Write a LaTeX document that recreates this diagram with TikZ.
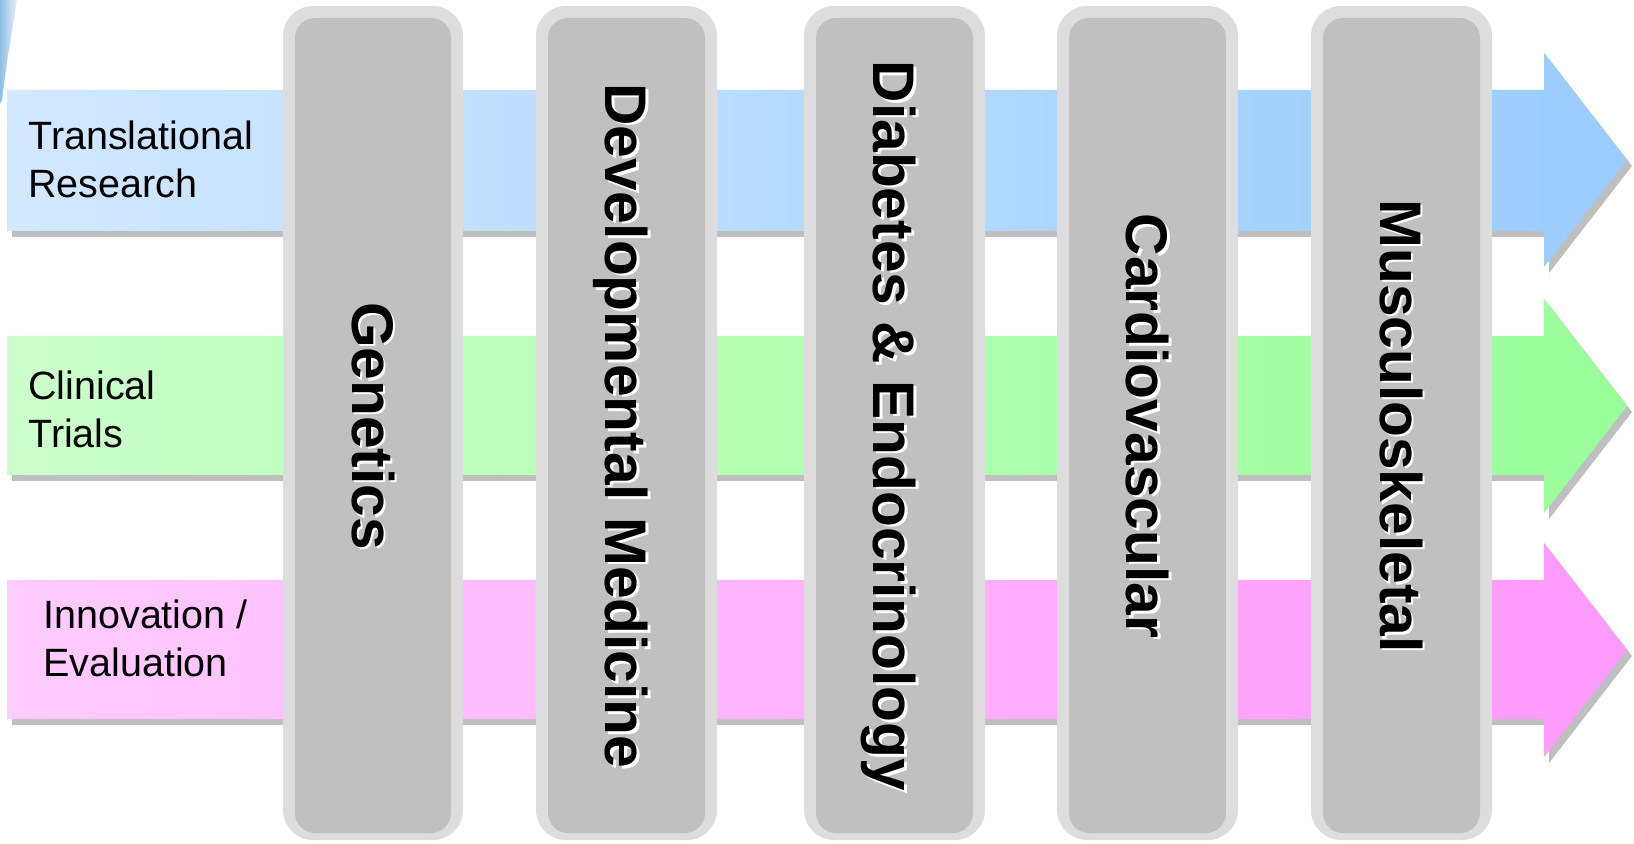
\documentclass[tikz,border=0pt]{standalone}
\usepackage{fontspec}
\setmainfont{Liberation Sans}
\definecolor{blueL}{HTML}{D2E8FF}
\definecolor{blueR}{HTML}{99CCFF}
\definecolor{greenL}{HTML}{CCFFCC}
\definecolor{greenR}{HTML}{99FF99}
\definecolor{pinkL}{HTML}{FFCCFF}
\definecolor{pinkR}{HTML}{FF99FF}
\definecolor{shadowgray}{HTML}{BFBFBF}
\definecolor{colout}{HTML}{DDDDDD}
\definecolor{colin}{HTML}{C0C0C0}
\definecolor{swooshA}{HTML}{8EBFE6}
\definecolor{swooshB}{HTML}{E4F0FA}
\tikzset{
  bandshadow/.style={fill=shadowgray},
  outerbox/.style={fill=colout, rounded corners=15pt},
  innerbox/.style={fill=colin, rounded corners=10pt},
  rowlabel/.style={anchor=base west, align=left, inner sep=0pt,
    font=\fontsize{19.75pt}{24pt}\selectfont},
  coltext/.style={rotate=-90, anchor=base, inner sep=0pt,
    font=\fontsize{29.35pt}{34pt}\selectfont\bfseries},
  coltextshadow/.style={coltext, text=white},
}
\begin{document}
\begin{tikzpicture}[x=0.5pt,y=-0.5pt]
\useasboundingbox (0,0) rectangle (1634,844);
\fill[white] (0,0) rectangle (1634,844);
% swoosh at top-left
\shade[left color=swooshA, right color=swooshB] (0,0) -- (17,0) -- (8,55) -- (2,100) -- (0,104) -- cycle;
% band shadows
\begin{scope}[shift={(5,6)}]
  \fill[bandshadow] (7,90) -- (1544,90) -- (1544,53) -- (1627,160) -- (1544,267) -- (1544,231) -- (7,231) -- cycle;
  \fill[bandshadow] (7,336) -- (1544,336) -- (1544,299) -- (1627,406) -- (1544,513) -- (1544,475) -- (7,475) -- cycle;
  \fill[bandshadow] (7,580) -- (1544,580) -- (1544,543) -- (1627,650) -- (1544,757) -- (1544,719) -- (7,719) -- cycle;
\end{scope}
% bands
\shade[left color=blueL, right color=blueR] (7,90) -- (1544,90) -- (1544,53) -- (1627,160) -- (1544,267) -- (1544,231) -- (7,231) -- cycle;
\shade[left color=greenL, right color=greenR] (7,336) -- (1544,336) -- (1544,299) -- (1627,406) -- (1544,513) -- (1544,475) -- (7,475) -- cycle;
\shade[left color=pinkL, right color=pinkR] (7,580) -- (1544,580) -- (1544,543) -- (1627,650) -- (1544,757) -- (1544,719) -- (7,719) -- cycle;
% row labels (anchor on the baseline of the last line)
\node[rowlabel] (r1) at (28,198) {Translational\\Research};
\node[rowlabel] (r2) at (28,448) {Clinical\\Trials};
\node[rowlabel] (r3) at (43,676) {Innovation /\\Evaluation};
% columns
\foreach \l/\r in {283/463, 536/717, 804/985, 1057/1238, 1311/1492}{
  \fill[outerbox] (\l,6) rectangle (\r,840);
  \fill[innerbox] (\l+12,18) rectangle (\r-12,833);
}
% column texts (white shadow then black)
\node[coltextshadow] (t1s) at (354.8,428.5) {Genetics};
\node[coltext] (t1) at (352.3,426) {Genetics};
\node[coltextshadow] (t2s) at (608.2,428.5) {Developmental Medicine};
\node[coltext] (t2) at (605.7,426) {Developmental Medicine};
\node[coltextshadow] (t3s) at (876,428.5) {Diabetes \& Endocrinology};
\node[coltext] (t3) at (873.5,426) {Diabetes \& Endocrinology};
\node[coltextshadow] (t4s) at (1129.3,428.5) {Cardiovascular};
\node[coltext] (t4) at (1126.8,426) {Cardiovascular};
\node[coltextshadow] (t5s) at (1382.7,428.5) {Musculoskeletal};
\node[coltext] (t5) at (1380.2,426) {Musculoskeletal};
\end{tikzpicture}
\end{document}
